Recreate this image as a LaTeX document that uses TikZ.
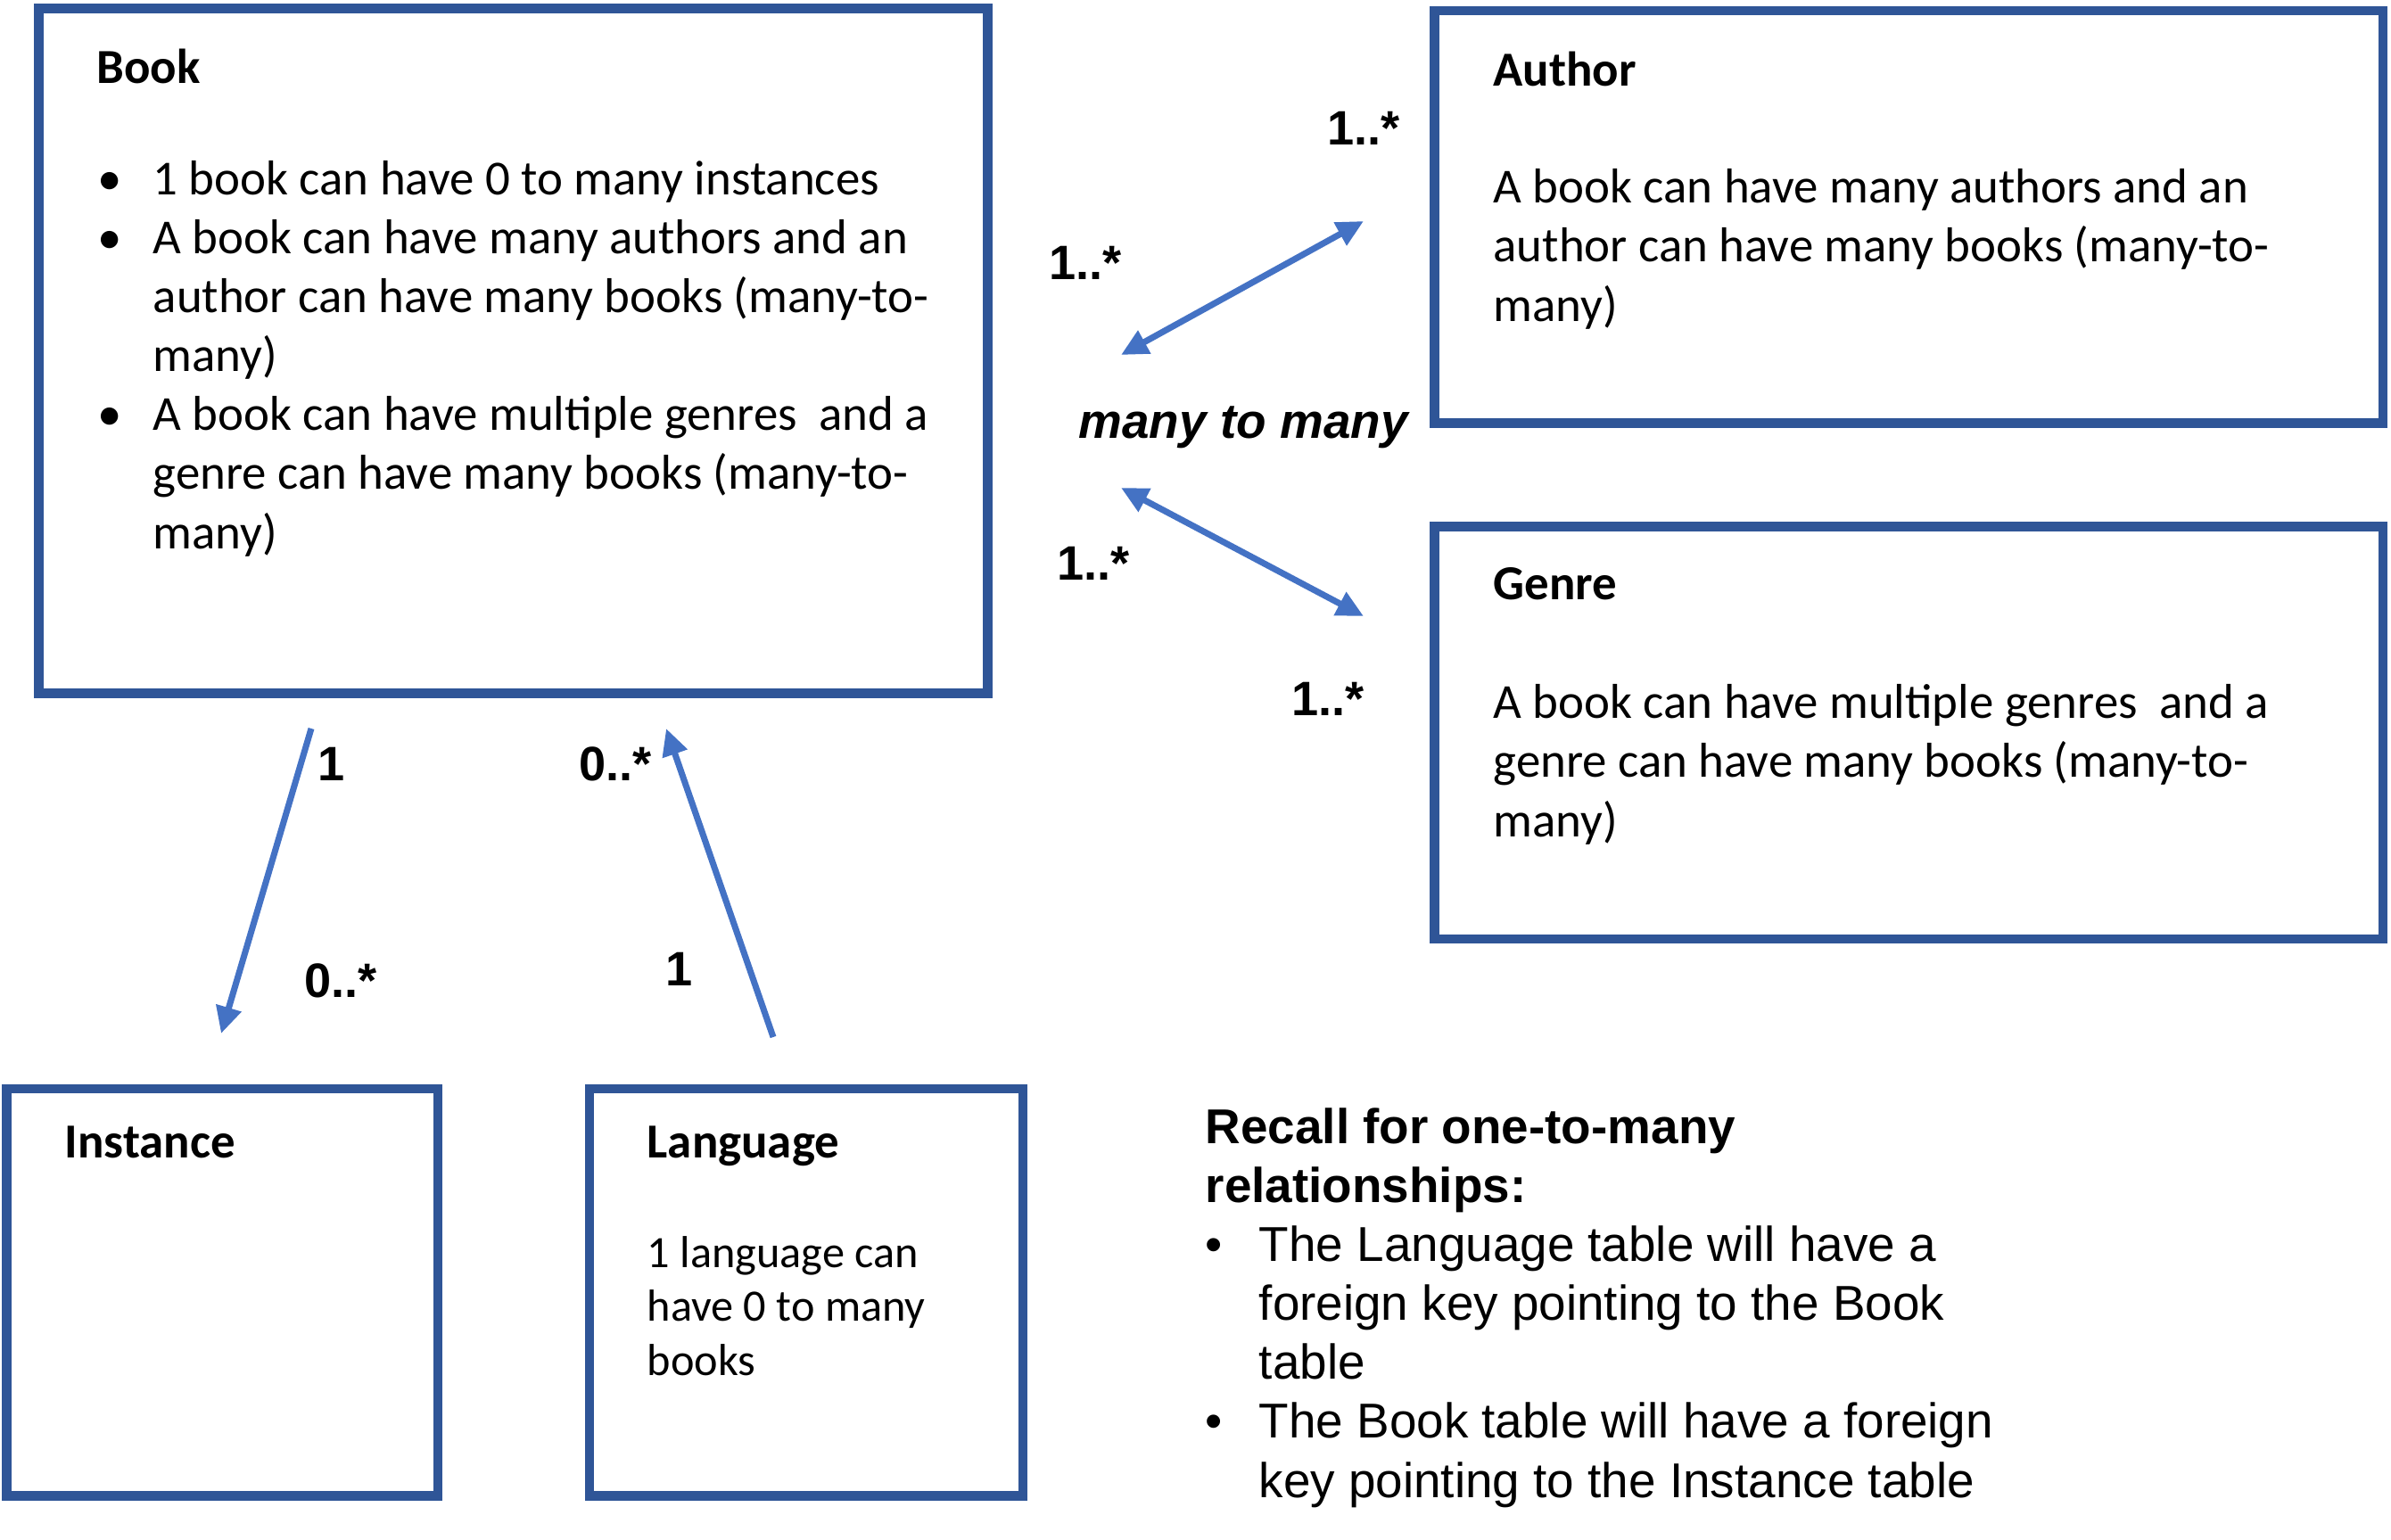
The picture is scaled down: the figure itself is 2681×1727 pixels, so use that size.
\documentclass[tikz,border=0pt]{standalone}
\usepackage{fontspec}
\setmainfont{Carlito}
\newfontfamily\arialfont{Liberation Sans}
\usetikzlibrary{arrows.meta,fit}
\definecolor{boxblue}{HTML}{2F5597}
\definecolor{linkblue}{HTML}{4472C4}
\newcommand{\bul}[1][0.62cm]{\makebox[#1][l]{\textbullet}}
\newcommand{\hang}[1][0.62cm]{\hspace*{#1}}

\begin{document}
\begin{tikzpicture}[x=0.01cm, y=-0.01cm,
    entity/.style={draw=boxblue, line width=3pt, inner sep=0pt},
    heading/.style={font=\fontsize{15.6}{18.8}\selectfont\bfseries, anchor=base west, inner sep=0pt},
    notes/.style={font=\fontsize{15.6}{18.8}\selectfont, anchor=base west, inner sep=0pt, align=left},
    mult/.style={font=\arialfont\fontsize{15.4}{18.8}\selectfont\bfseries, anchor=base, inner sep=0pt},
    rel/.style={draw=linkblue, line width=2pt, -{Triangle[length=0.3cm, width=0.28cm]}},
    both/.style={rel, {Triangle[length=0.3cm, width=0.28cm]}-{Triangle[length=0.3cm, width=0.28cm]}}]
    \useasboundingbox (0,0) rectangle (2681,1727);

    % tables
    \node[entity, fit={(43.5,9.5) (1107.5,777.5)}] (book) {};
    \node[entity, fit={(1608.5,12) (2672,474.5)}] (author) {};
    \node[entity, fit={(1608.5,590.5) (2672,1053)}] (genre) {};
    \node[entity, fit={(7.5,1221) (491,1677.5)}] (instance) {};
    \node[entity, fit={(661,1221) (1147,1677.5)}] (language) {};

    % multi-line notes sit on their last line
    \node[heading] (booktitle) at (108,93) {Book};
    \node[notes] (booknotes) at (109,615) {\bul 1 book can have 0 to many instances\\
        \bul A book can have many authors and an\\
        \hang author can have many books (many-to-\\
        \hang many)\\
        \bul A book can have multiple genres\ \ and a\\
        \hang genre can have many books (many-to-\\
        \hang many)};
    \node[heading] (authortitle) at (1674,96) {Author};
    \node[notes] (authornotes) at (1674,360) {A book can have many authors and an\\
        author can have many books (many-to-\\
        many)};
    \node[heading] (genretitle) at (1674,672) {Genre};
    \node[notes] (genrenotes) at (1674,938) {A book can have multiple genres\ \ and a\\
        genre can have many books (many-to-\\
        many)};
    \node[heading] (instancetitle) at (72,1298) {Instance};
    \node[heading] (languagetitle) at (725,1298) {Language};
    \node[notes, font=\fontsize{14.3}{17.1}\selectfont] (languagenotes) at (725,1542) {1 language can\\
        have 0 to many\\
        books};

    \node[notes, font=\arialfont\fontsize{15.6}{18.8}\selectfont] (recall) at (1351,1679) {\textbf{Recall for one-to-many}\\
        \textbf{relationships:}\\
        \bul[0.6cm]The Language table will have a\\
        \hang[0.6cm]foreign key pointing to the Book\\
        \hang[0.6cm]table\\
        \bul[0.6cm]The Book table will have a foreign\\
        \hang[0.6cm]key pointing to the Instance table};

    % links
    \coordinate (bookout) at (349,817);
    \coordinate (instancein) at (248,1159);
    \coordinate (languageout) at (867,1163);
    \coordinate (bookin) at (747,817);
    \coordinate (bookauthor) at (1257,398);
    \coordinate (authorend) at (1529,248);
    \coordinate (bookgenre) at (1257,547);
    \coordinate (genreend) at (1529,691);

    \draw[rel] (bookout) -- (instancein);
    \draw[rel] (languageout) -- (bookin);
    \draw[both] (bookauthor) -- (authorend);
    \draw[both] (bookgenre) -- (genreend);

    \node[mult] (instone) at (372,875) {1};
    \node[mult] (instmany) at (382,1118) {0..*};
    \node[mult] (langmany) at (690,875) {0..*};
    \node[mult] (langone) at (762,1105) {1};

    \node[mult] (authormany) at (1529,162) {1..*};
    \node[mult] (bookauthormany) at (1217,313) {1..*};
    \node[font=\arialfont\fontsize{15.6}{18.8}\selectfont\bfseries\itshape, anchor=base west, inner sep=0pt] (m2m) at (1209,491) {many to many};
    \node[mult] (bookgenremany) at (1226,650) {1..*};
    \node[mult] (genremany) at (1489,802) {1..*};
\end{tikzpicture}
\end{document}
